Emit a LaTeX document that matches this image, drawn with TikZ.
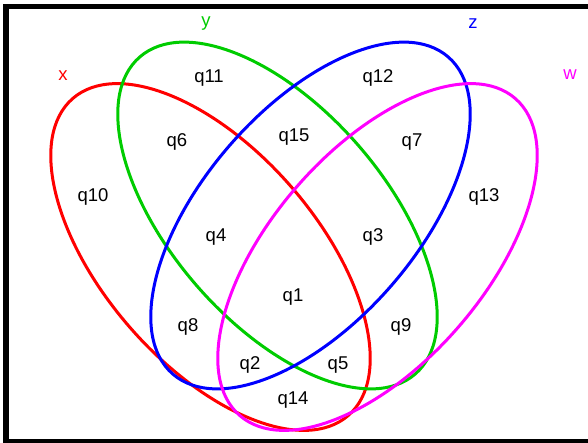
\documentclass[tikz,border=0pt]{standalone}
\usepackage{fontspec}
\setmainfont{Liberation Sans}
\definecolor{SetX}{RGB}{255,0,0}
\definecolor{SetY}{RGB}{0,204,0}
\definecolor{SetZ}{RGB}{0,0,255}
\definecolor{SetW}{RGB}{255,0,255}

\begin{document}
\begin{tikzpicture}[x=1pt,y=1pt,
    region/.style={font=\fontsize{18.5}{20}\selectfont,inner sep=0pt},
    setname/.style={font=\fontsize{18.5}{20}\selectfont,inner sep=0pt},
    outline/.style={line width=3pt}]
  \useasboundingbox (0,0) rectangle (588,442);
  % frame
  \draw[line width=5.5pt] (600,435.3) -- (6,435.3) -- (6,0.5) -- (600,0.5);
  % the four sets
  \foreach \c/\cx/\cy/\ang in {SetX/210.5/185/-49,SetY/277.5/226.5/-49,SetZ/310.5/226.5/49,SetW/377.5/185/49}{
    \draw[outline,\c,rotate around={\ang:(\cx,\cy)}] (\cx,\cy) ellipse [x radius=210,y radius=107];
  }
  \node[setname,SetX] (setx) at (63,366) {x};
  \node[setname,SetY] (sety) at (206,418) {y};
  \node[setname,SetZ] (setz) at (473,418) {z};
  \node[setname,SetW] (setw) at (570,367) {w};
  % regions
  \foreach \n/\px/\py in {1/293/145,2/250/77,3/373/205,4/216/205,5/338/77,6/177/300,7/412/300,
      8/188/115,9/401/115,10/93/245,11/209/364,12/378/364,13/484/245,14/293/42,15/294/305}{
    \node[region] (q\n) at (\px,\py) {q\n};
  }
\end{tikzpicture}
\end{document}
